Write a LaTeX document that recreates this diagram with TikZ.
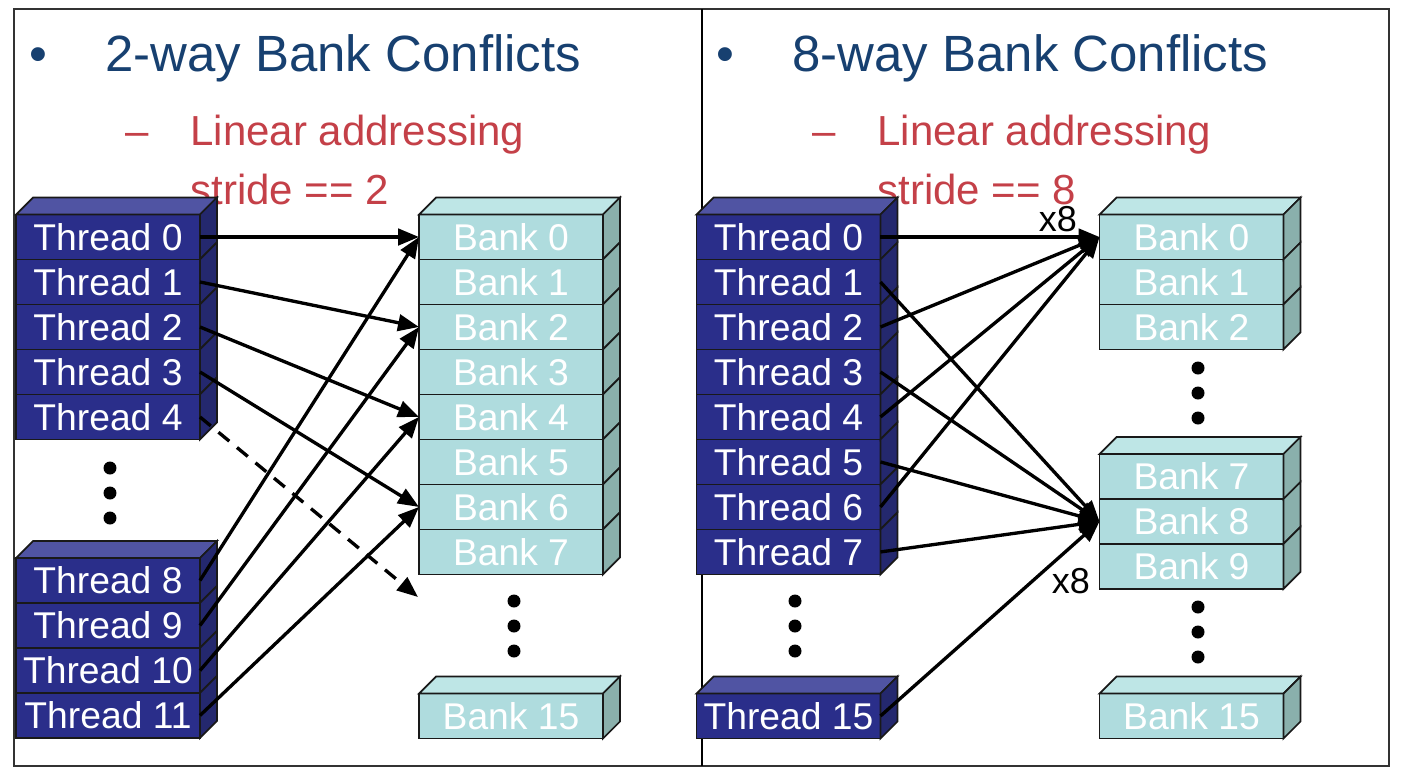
\documentclass[tikz,border=0pt]{standalone}
\usepackage{fontspec}
\setmainfont{Liberation Sans}
\usepackage{tikz}
\usetikzlibrary{arrows.meta, positioning}
\definecolor{thrfront}{RGB}{42,46,138}
\definecolor{thrtop}{RGB}{80,84,163}
\definecolor{thrside}{RGB}{36,40,110}
\definecolor{bnkfront}{RGB}{175,220,222}
\definecolor{bnktop}{RGB}{190,230,230}
\definecolor{bnkside}{RGB}{138,176,172}
\definecolor{ttlblue}{RGB}{23,64,112}
\definecolor{subred}{RGB}{196,64,72}
\tikzset{thr/.style={draw=black!90, line width=1pt, fill=thrfront, text=white, minimum width=3.68cm, minimum height=0.9cm, inner sep=0pt, outer sep=0pt, font=\fontsize{21.2}{23}\selectfont}}
\tikzset{bnk/.style={thr, fill=bnkfront}}
\tikzset{ttl/.style={anchor=base west, inner sep=0pt, text=ttlblue, font=\fontsize{29}{32}\selectfont}}
\tikzset{sub/.style={anchor=base west, inner sep=0pt, text=subred, font=\fontsize{23.9}{26}\selectfont}}
\tikzset{mult/.style={anchor=base, inner sep=0pt, font=\fontsize{20.5}{22}\selectfont}}
\tikzset{conn/.style={line width=1.9pt, -{Triangle[length=0.42cm, width=0.33cm]}}}
% top and side faces of one slab
\newcommand{\slabtop}[2]{\draw[line width=1pt, draw=black!90, fill=#2] (#1.north west) -- ++(0.34cm,0.34cm) -- ++(3.68cm,0) -- (#1.north east) -- cycle;}
\newcommand{\slabside}[2]{\draw[line width=1pt, draw=black!90, fill=#2] (#1.north east) -- ++(0.34cm,0.34cm) -- ++(0,-0.9cm) -- (#1.south east) -- cycle;}

\begin{document}
\begin{tikzpicture}[x=0.02cm, y=-0.02cm]
    \useasboundingbox (0,0) rectangle (1401,779);
    \draw[line width=1.2pt, black!80] (14,9) rectangle (1389,766);
    \draw[line width=0.8pt] (702,9) -- (702,766);

    % left panel
    \node[ttl, anchor=base] (bul2) at (38,71) {•};
    \node[ttl] (head2) at (105,71) {2-way Bank Conflicts};
    \node[sub] (dash2) at (125,145) {–};
    \node[sub] (lin2) at (190,145) {Linear addressing};
    \node[sub] (str2) at (190,204) {stride == 2};

    \node[thr] (t0) at (108,237) {Thread 0};
    \node[thr, below=0pt of t0] (t1) {Thread 1};
    \node[thr, below=0pt of t1] (t2) {Thread 2};
    \node[thr, below=0pt of t2] (t3) {Thread 3};
    \node[thr, below=0pt of t3] (t4) {Thread 4};
    \slabtop{t0}{thrtop}
    \foreach \n in {t0,t1,t2,t3,t4} {\slabside{\n}{thrside}}

    \node[thr] (t8) at (108,580.5) {Thread 8};
    \node[thr, below=0pt of t8] (t9) {Thread 9};
    \node[thr, below=0pt of t9] (t10) {Thread 10};
    \node[thr, below=0pt of t10] (t11) {Thread 11};
    \slabtop{t8}{thrtop}
    \foreach \n in {t8,t9,t10,t11} {\slabside{\n}{thrside}}

    \node[bnk] (b0) at (511,237) {Bank 0};
    \node[bnk, below=0pt of b0] (b1) {Bank 1};
    \node[bnk, below=0pt of b1] (b2) {Bank 2};
    \node[bnk, below=0pt of b2] (b3) {Bank 3};
    \node[bnk, below=0pt of b3] (b4) {Bank 4};
    \node[bnk, below=0pt of b4] (b5) {Bank 5};
    \node[bnk, below=0pt of b5] (b6) {Bank 6};
    \node[bnk, below=0pt of b6] (b7) {Bank 7};
    \slabtop{b0}{bnktop}
    \foreach \n in {b0,b1,b2,b3,b4,b5,b6,b7} {\slabside{\n}{bnkside}}

    \node[bnk] (b15) at (511,716) {Bank 15};
    \slabtop{b15}{bnktop}
    \slabside{b15}{bnkside}
    \coordinate (b8w) at (418,597);

    \fill (110,468) circle (0.13cm);
    \fill (110,493) circle (0.13cm);
    \fill (110,518) circle (0.13cm);
    \fill (514,601) circle (0.13cm);
    \fill (514,626) circle (0.13cm);
    \fill (514,651) circle (0.13cm);

    \draw[conn] (t0.east) -- (b0.west);
    \draw[conn] (t1.east) -- (b2.west);
    \draw[conn] (t2.east) -- (b4.west);
    \draw[conn] (t3.east) -- (b6.west);
    \draw[conn, dash pattern=on 0.28cm off 0.2cm] (t4.east) -- (b8w);
    \draw[conn] (t8.east) -- (b0.west);
    \draw[conn] (t9.east) -- (b2.west);
    \draw[conn] (t10.east) -- (b4.west);
    \draw[conn] (t11.east) -- (b6.west);

    % right panel
    \node[ttl, anchor=base] (bul8) at (725,71) {•};
    \node[ttl] (head8) at (792,71) {8-way Bank Conflicts};
    \node[sub] (dash8) at (812,145) {–};
    \node[sub] (lin8) at (877,145) {Linear addressing};
    \node[sub] (str8) at (877,204) {stride == 8};

    \node[thr] (rt0) at (788.5,237) {Thread 0};
    \node[thr, below=0pt of rt0] (rt1) {Thread 1};
    \node[thr, below=0pt of rt1] (rt2) {Thread 2};
    \node[thr, below=0pt of rt2] (rt3) {Thread 3};
    \node[thr, below=0pt of rt3] (rt4) {Thread 4};
    \node[thr, below=0pt of rt4] (rt5) {Thread 5};
    \node[thr, below=0pt of rt5] (rt6) {Thread 6};
    \node[thr, below=0pt of rt6] (rt7) {Thread 7};
    \slabtop{rt0}{thrtop}
    \foreach \n in {rt0,rt1,rt2,rt3,rt4,rt5,rt6,rt7} {\slabside{\n}{thrside}}

    \node[thr] (rt15) at (788.5,716) {Thread 15};
    \slabtop{rt15}{thrtop}
    \slabside{rt15}{thrside}

    \node[bnk] (rb0) at (1191.5,237) {Bank 0};
    \node[bnk, below=0pt of rb0] (rb1) {Bank 1};
    \node[bnk, below=0pt of rb1] (rb2) {Bank 2};
    \slabtop{rb0}{bnktop}
    \foreach \n in {rb0,rb1,rb2} {\slabside{\n}{bnkside}}

    \node[bnk] (rb7) at (1191.5,476.5) {Bank 7};
    \node[bnk, below=0pt of rb7] (rb8) {Bank 8};
    \node[bnk, below=0pt of rb8] (rb9) {Bank 9};
    \slabtop{rb7}{bnktop}
    \foreach \n in {rb7,rb8,rb9} {\slabside{\n}{bnkside}}

    \node[bnk] (rb15) at (1191.5,716) {Bank 15};
    \slabtop{rb15}{bnktop}
    \slabside{rb15}{bnkside}

    \fill (795,601) circle (0.13cm);
    \fill (795,626) circle (0.13cm);
    \fill (795,651) circle (0.13cm);
    \fill (1198,368) circle (0.13cm);
    \fill (1198,393) circle (0.13cm);
    \fill (1198,418) circle (0.13cm);
    \fill (1198,607) circle (0.13cm);
    \fill (1198,632) circle (0.13cm);
    \fill (1198,657) circle (0.13cm);

    \node[mult] (x8a) at (1058,231) {x8};
    \node[mult] (x8b) at (1071,593) {x8};

    \draw[conn] (rt0.east) -- (rb0.west);
    \draw[conn] (rt2.east) -- (rb0.west);
    \draw[conn] (rt4.east) -- (rb0.west);
    \draw[conn] (rt6.east) -- (rb0.west);
    \draw[conn] (rt1.east) -- (rb8.west);
    \draw[conn] (rt3.east) -- (rb8.west);
    \draw[conn] (rt5.east) -- (rb8.west);
    \draw[conn] (rt7.east) -- (rb8.west);
    \draw[conn] (rt15.east) -- (rb8.west);
\end{tikzpicture}
\end{document}
